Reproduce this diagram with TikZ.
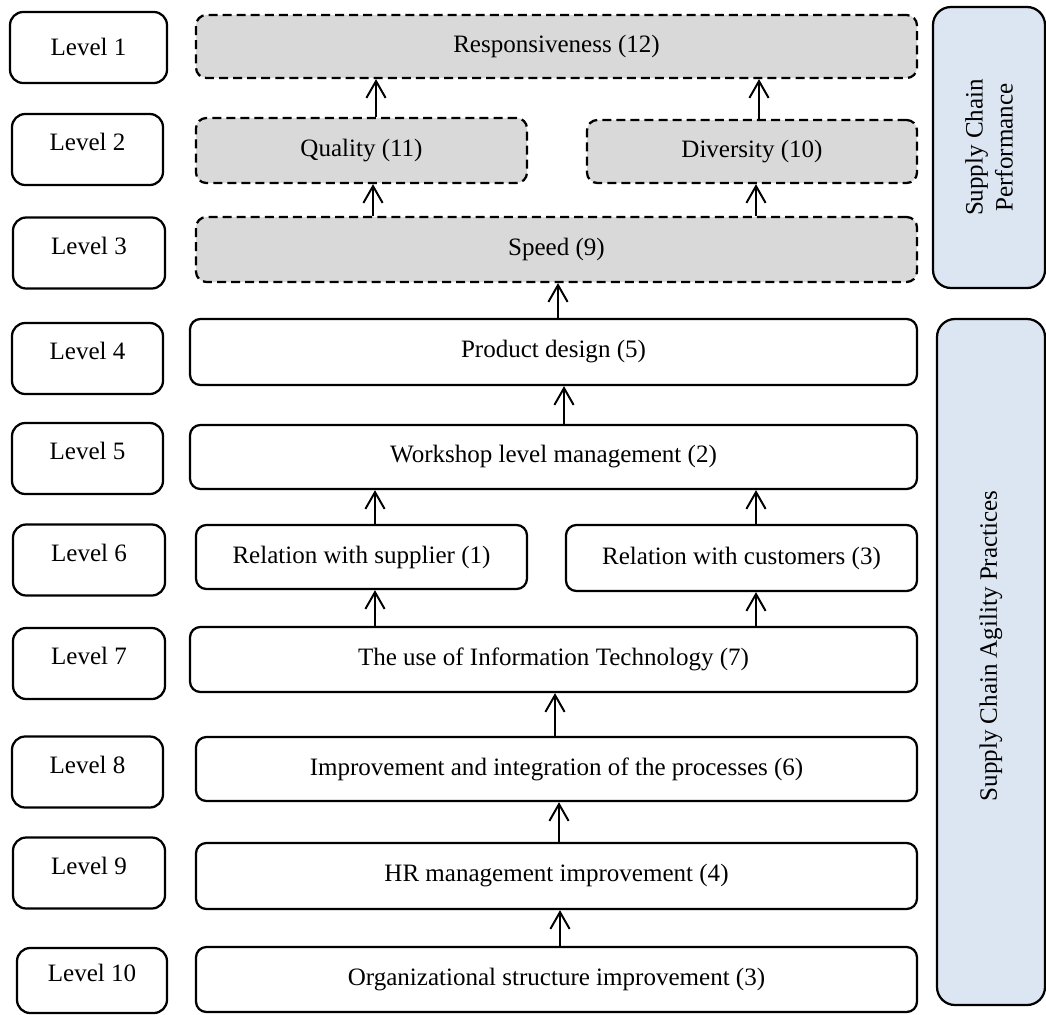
\documentclass[tikz,border=0pt]{standalone}
\usepackage{fontspec}
\setmainfont{Liberation Serif}
\usetikzlibrary{arrows.meta}
\definecolor{perfgray}{HTML}{D9D9D9}
\definecolor{panelblue}{HTML}{DCE6F2}
\newcommand{\px}{0.025cm}

\begin{document}
\begin{tikzpicture}[x=0.025cm, y=-0.025cm,
        every node/.style={font=\fontsize{17.8}{21.3}\selectfont},
        level/.style={draw, line width=1.6pt, rounded corners=0.33cm, inner sep=0pt,
            minimum height=71*\px, text height=12pt, text depth=10pt},
        perfbox/.style={draw, line width=1.6pt, dash pattern=on 6.4pt off 3.6pt, fill=perfgray,
            rounded corners=0.26cm, inner sep=0pt},
        practice/.style={draw, line width=1.6pt, rounded corners=0.26cm, inner sep=0pt},
        panel/.style={draw, line width=1.6pt, fill=panelblue, rounded corners=0.45cm, inner sep=0pt},
        up/.style={line width=1.4pt, -{Straight Barb[length=4.2mm, width=4.8mm]}}]
    \useasboundingbox (0,0) rectangle (1046,1014);

    \node[level, minimum width=157*\px, text height=13pt, text depth=1pt] (lvl1) at (88.5,47.5) {Level 1};
    \foreach \n/\cx/\cy/\w in {2/87.5/149.5/151, 3/89/253/152, 4/87.5/358.5/151, 5/87.5/458.5/151,
                               6/89/560/152, 7/89/663.5/152, 8/87.5/772/151, 9/89/873/152}
        \node[level, minimum width=\w*\px] (lvl\n) at (\cx,\cy) {Level \n};
    \node[level, minimum width=150*\px, minimum height=65*\px] (lvl10) at (92,980.5) {Level 10};

    \node[perfbox, minimum width=721*\px, minimum height=63*\px] (resp) at (556.5,46.5) {Responsiveness (12)};
    \node[perfbox, minimum width=331*\px, minimum height=65*\px] (quality) at (361.5,150.5) {Quality (11)};
    \node[perfbox, minimum width=330*\px, minimum height=63*\px] (diversity) at (752,151.5) {Diversity (10)};
    \node[perfbox, minimum width=721*\px, minimum height=65*\px] (speed) at (556.5,249.5) {Speed (9)};

    \node[practice, minimum width=727*\px, minimum height=66*\px] (product) at (553.5,352) {Product design (5)};
    \node[practice, minimum width=727*\px, minimum height=64*\px] (workshop) at (553.5,457) {Workshop level management (2)};
    \node[practice, minimum width=331*\px, minimum height=64*\px] (supplier) at (361.5,557) {Relation with supplier (1)};
    \node[practice, minimum width=351*\px, minimum height=66*\px] (customers) at (741.5,558) {Relation with customers (3)};
    \node[practice, minimum width=727*\px, minimum height=65*\px] (it) at (553.5,659.5) {The use of Information Technology (7)};
    \node[practice, minimum width=721*\px, minimum height=64*\px] (improve) at (556.5,769) {Improvement and integration of the processes (6)};
    \node[practice, minimum width=721*\px, minimum height=66*\px] (hr) at (556.5,876) {HR management improvement (4)};
    \node[practice, minimum width=721*\px, minimum height=65*\px] (org) at (556.5,979.5) {Organizational structure improvement (3)};

    \node[panel, minimum width=112*\px, minimum height=281*\px] (perf) at (989,147.5) {};
    \node[rotate=90, align=center] (perftext) at (perf.center) {Supply Chain\\Performance};
    \node[panel, minimum width=108*\px, minimum height=686*\px] (agility) at (991,662) {};
    \node[rotate=90] (agilitytext) at (991,646) {Supply Chain Agility Practices};

    \draw[up] (376,0 |- quality.north) -- (376,0 |- resp.south);
    \draw[up] (759,0 |- diversity.north) -- (759,0 |- resp.south);
    \draw[up] (373,0 |- speed.north) -- (373,0 |- quality.south);
    \draw[up] (756,0 |- speed.north) -- (756,0 |- diversity.south);
    \draw[up] (558,0 |- product.north) -- (558,0 |- speed.south);
    \draw[up] (564,0 |- workshop.north) -- (564,0 |- product.south);
    \draw[up] (375,0 |- supplier.north) -- (375,0 |- workshop.south);
    \draw[up] (756,0 |- customers.north) -- (756,0 |- workshop.south);
    \draw[up] (375,0 |- it.north) -- (375,0 |- supplier.south);
    \draw[up] (756,0 |- it.north) -- (756,0 |- customers.south);
    \draw[up] (555,0 |- improve.north) -- (555,0 |- it.south);
    \draw[up] (559,0 |- hr.north) -- (559,0 |- improve.south);
    \draw[up] (560,0 |- org.north) -- (560,0 |- hr.south);
\end{tikzpicture}
\end{document}
